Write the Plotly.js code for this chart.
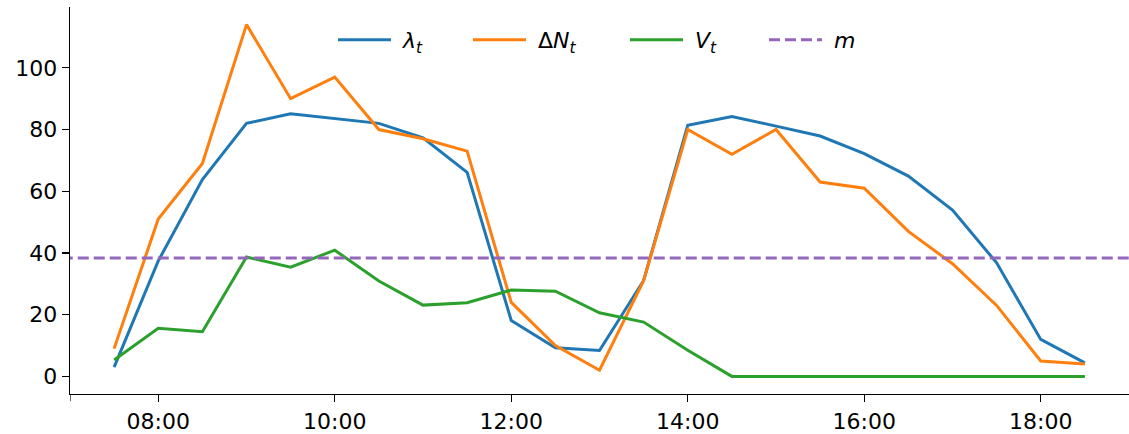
<!DOCTYPE html>
<html>
<head>
<meta charset="utf-8">
<script src="https://cdn.plot.ly/plotly-3.0.1.min.js"></script>
<style>html,body{margin:0;padding:0;background:#fff;}#chart{width:1129px;height:434px;}</style>
</head>
<body>
<div id="chart"></div>
<script>
const times = ["07:30","08:00","08:30","09:00","09:30","10:00","10:30","11:00","11:30","12:00","12:30","13:00","13:30","14:00","14:30","15:00","15:30","16:00","16:30","17:00","17:30","18:00","18:30"];
const lambdaT = [3.0,37.4,63.8,82.0,85.1,83.6,82.0,77.3,66.1,18.1,9.3,8.4,31.1,81.4,84.2,81.1,77.9,72.2,64.9,53.9,36.8,12.0,4.4];
const deltaN = [9,51,69,114,90,97,80,77,73,24,10,2,31,80,72,80,63,61,47,36.5,23,5,4];
const vT = [5.3,15.6,14.5,38.7,35.4,40.9,30.9,23.1,23.9,28.0,27.6,20.6,17.6,8.5,0,0,0,0,0,0,0,0,0];
const mValue = 38.4;
const tickTimes = ["08:00","10:00","12:00","14:00","16:00","18:00"];
const tickLabels = ["08:00","10:00","12:00","14:00","16:00","18:00"];

const day = "2024-01-01 ";
const xs = times.map(t => day + t);
const sp = "\u00a0";

const traces = [
  {x: xs, y: lambdaT, mode: "lines", name: sp + "<i>λ</i><sub><i>t</i></sub>", line: {color: "#1f77b4", width: 3}, legend: "legend"},
  {x: xs, y: deltaN, mode: "lines", name: sp + "Δ<i>N</i><sub><i>t</i></sub>", line: {color: "#ff7f0e", width: 3}, legend: "legend2"},
  {x: xs, y: vT, mode: "lines", name: sp + "<i>V</i><sub><i>t</i></sub>", line: {color: "#2ca02c", width: 3}, legend: "legend3"},
  {x: [day + "06:00", day + "20:00"], y: [mValue, mValue], mode: "lines", name: sp + "<i>m</i>", line: {color: "#9467bd", width: 3, dash: "11px,5px"}, legend: "legend4"}
];

const plotL = 70, plotW = 1059;
function legendAt(px) {
  return {orientation: "h", x: (px - plotL) / plotW, xanchor: "left", y: 0.915, yanchor: "middle",
    font: {family: "DejaVu Sans", size: 22, color: "#000"}, bgcolor: "rgba(0,0,0,0)", itemwidth: 53};
}

const layout = {
  width: 1129, height: 434,
  margin: {l: plotL, r: 0, t: 7, b: 40},
  paper_bgcolor: "#fff", plot_bgcolor: "#fff",
  font: {family: "DejaVu Sans", size: 22, color: "#000"},
  showlegend: true,
  legend: legendAt(333),
  legend2: legendAt(468),
  legend3: legendAt(625),
  legend4: legendAt(764),
  shapes: [{type: "line", xref: "x", yref: "paper", x0: day + "07:00", x1: day + "07:00", y0: 0, y1: -0.019,
    line: {color: "#000", width: 1.2}}],
  xaxis: {
    type: "date", range: [day + "07:00", day + "19:00"],
    tickvals: tickTimes.map(t => day + t), ticktext: tickLabels,
    ticks: "outside", ticklen: 7, tickwidth: 1.2, tickcolor: "#000",
    showline: true, linecolor: "#000", linewidth: 1.3, showgrid: false, zeroline: false,
    tickfont: {size: 22}
  },
  yaxis: {
    range: [-5.7, 119.7], tickvals: [0,20,40,60,80,100],
    ticks: "outside", ticklen: 7, tickwidth: 1.2, tickcolor: "#000",
    showline: true, linecolor: "#000", linewidth: 1.3, showgrid: false, zeroline: false,
    tickfont: {size: 22}
  }
};
Plotly.newPlot("chart", traces, layout, {displayModeBar: false, staticPlot: true});
</script>
</body>
</html>
